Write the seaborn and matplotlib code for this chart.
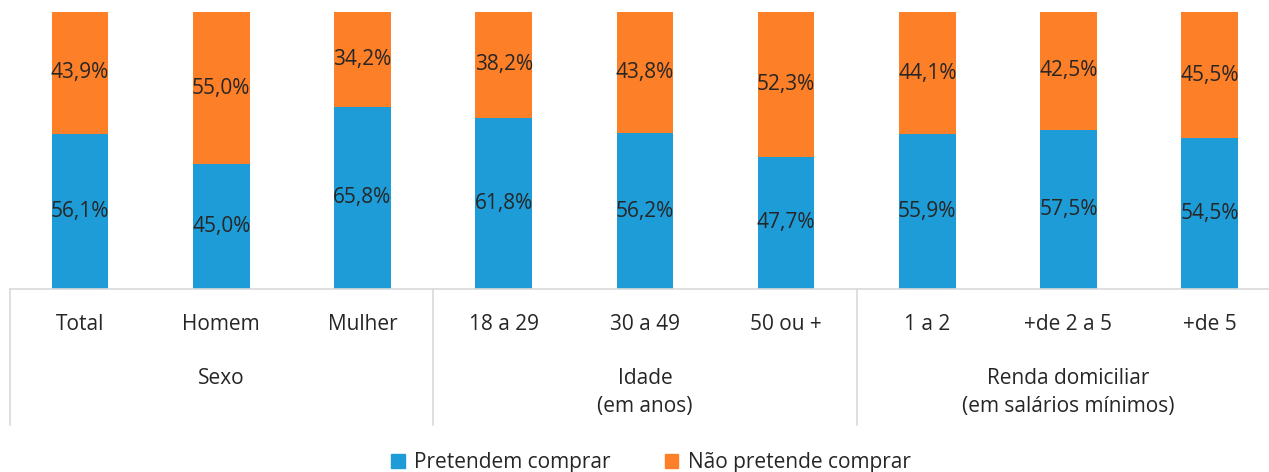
import matplotlib
matplotlib.use("Agg")
import matplotlib.pyplot as plt
from matplotlib.patches import Patch
import pandas as pd
import seaborn as sns

# Data
categories = ["Total", "Homem", "Mulher", "18 a 29", "30 a 49", "50 ou +",
              "1 a 2", "+de 2 a 5", "+de 5"]
pretendem = [56.1, 45.0, 65.8, 61.8, 56.2, 47.7, 55.9, 57.5, 54.5]
nao_pretende = [43.9, 55.0, 34.2, 38.2, 43.8, 52.3, 44.1, 42.5, 45.5]
group_names = ["Sexo", "Idade\n(em anos)", "Renda domiciliar\n(em salários mínimos)"]
group_sizes = [3, 3, 3]

BLUE = "#1E9CD8"
ORANGE = "#FD7F27"
GRID = "#D9D9D9"
TXT = "#262626"

sns.set_theme(style="white")
plt.rcParams["font.family"] = ["Open Sans", "DejaVu Sans"]

df = pd.DataFrame({"cat": categories, "p": pretendem, "n": nao_pretende})
df["total"] = df["p"] + df["n"]

fig = plt.figure(figsize=(12.69, 4.72), dpi=100)
ax = fig.add_axes([9.5 / 1269, 1 - 289 / 472, 9 * 141.2 / 1269, 277 / 472])

# stacked: full bar in orange, blue part on top of it
sns.barplot(data=df, x="cat", y="total", color=ORANGE, width=0.40, ax=ax,
            saturation=1, edgecolor="none")
sns.barplot(data=df, x="cat", y="p", color=BLUE, width=0.40, ax=ax,
            saturation=1, edgecolor="none")

for i, row in df.iterrows():
    ax.text(i, row["p"] / 2, f"{row['p']:.1f}%".replace(".", ","),
            ha="center", va="center", fontsize=15, color=TXT)
    ax.text(i, row["p"] + row["n"] / 2, f"{row['n']:.1f}%".replace(".", ","),
            ha="center", va="center", fontsize=15, color=TXT)

ax.set_xlim(-0.5, len(categories) - 0.5)
ax.set_ylim(0, 100)
ax.set_xlabel("")
ax.set_ylabel("")
ax.set_yticks([])
ax.tick_params(axis="x", length=0, pad=18, labelsize=15, labelcolor=TXT)
for s in ["top", "left", "right"]:
    ax.spines[s].set_visible(False)
ax.spines["bottom"].set_color(GRID)
ax.spines["bottom"].set_linewidth(1.2)

# group separators and group labels
tr = ax.get_xaxis_transform()
start = 0
bounds = [-0.5]
for name, size in zip(group_names, group_sizes):
    center = start + (size - 1) / 2
    ax.text(center, -0.285, name, transform=tr, ha="center", va="top",
            fontsize=15, color=TXT, linespacing=1.45)
    start += size
    bounds.append(start - 0.5)
for b in bounds:
    ax.plot([b, b], [0, -0.49], transform=tr, color=GRID, lw=1.2, clip_on=False)

handles = [Patch(color=BLUE, label="Pretendem comprar"),
           Patch(color=ORANGE, label="Não pretende comprar")]
fig.legend(handles=handles, loc="lower center", bbox_to_anchor=(0.513, -0.042),
           ncol=2, frameon=False, fontsize=15, handlelength=0.65, handleheight=0.65,
           handletextpad=0.45, columnspacing=2.6, labelcolor=TXT)

fig.savefig("out.png", dpi=100)
